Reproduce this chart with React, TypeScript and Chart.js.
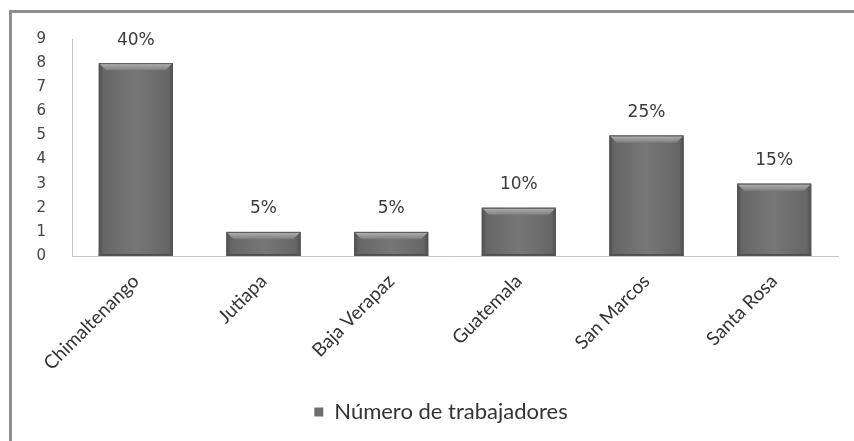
import React, { useEffect, useRef } from "react";
import { Chart, registerables } from "chart.js";

Chart.register(...registerables);

const categories = ["Chimaltenango", "Jutiapa", "Baja Verapaz", "Guatemala", "San Marcos", "Santa Rosa"];
const workers = [8, 1, 1, 2, 5, 3];
const percentLabels = ["40%", "5%", "5%", "10%", "25%", "15%"];
const seriesName = "Número de trabajadores";

const framePlugin = {
  id: "frame",
  afterLayout(chart: any) {
    if (chart.legend) {
      chart.legend.left += 22;
      chart.legend.right += 22;
    }
  },
  beforeDraw(chart: any) {
    const ctx = chart.ctx;
    ctx.save();
    ctx.fillStyle = "#ffffff";
    ctx.fillRect(0, 0, chart.width, chart.height);
    ctx.strokeStyle = "#8e8e8e";
    ctx.lineWidth = 3;
    ctx.beginPath();
    ctx.moveTo(10.5, chart.height);
    ctx.lineTo(10.5, 11.5);
    ctx.lineTo(chart.width, 11.5);
    ctx.stroke();
    ctx.restore();
  },
};

const bevelPlugin = {
  id: "bevel",
  afterDatasetsDraw(chart: any) {
    const ctx = chart.ctx;
    const meta = chart.getDatasetMeta(0);
    ctx.save();
    meta.data.forEach((el: any, i: number) => {
      const { x, y, base, width } = el.getProps(["x", "y", "base", "width"], true);
      const l = x - width / 2;
      const r = x + width / 2;
      const h = base - y;
      const b = Math.min(7, h / 2);
      const g = ctx.createLinearGradient(l, 0, r, 0);
      g.addColorStop(0, "#4e4e4e");
      g.addColorStop(0.06, "#666666");
      g.addColorStop(0.5, "#777777");
      g.addColorStop(0.94, "#666666");
      g.addColorStop(1, "#4e4e4e");
      ctx.fillStyle = g;
      ctx.fillRect(l, y, width, h);
      const tg = ctx.createLinearGradient(0, y, 0, y + b);
      tg.addColorStop(0, "#b4b4b4");
      tg.addColorStop(1, "#808080");
      ctx.fillStyle = tg;
      ctx.beginPath();
      ctx.moveTo(l, y);
      ctx.lineTo(r, y);
      ctx.lineTo(r - b, y + b);
      ctx.lineTo(l + b, y + b);
      ctx.closePath();
      ctx.fill();
      ctx.fillStyle = "#505050";
      ctx.fillRect(l, base - 2, width, 2);
      ctx.strokeStyle = "#555555";
      ctx.lineWidth = 1;
      ctx.strokeRect(l + 0.5, y + 0.5, width - 1, h - 1);
      ctx.fillStyle = "#3a3a3a";
      ctx.font = "17px 'DejaVu Sans'";
      ctx.textAlign = "center";
      ctx.textBaseline = "middle";
      ctx.fillText(percentLabels[i], x, y - 23);
    });
    ctx.restore();
  },
};

export default function App() {
  const ref = useRef<HTMLCanvasElement | null>(null);
  useEffect(() => {
    if (!ref.current) return;
    const chart = new Chart(ref.current, {
      type: "bar",
      data: {
        labels: categories,
        datasets: [
          {
            label: seriesName,
            data: workers,
            backgroundColor: "#6e6e6e",
            borderColor: "#555555",
            borderWidth: 0,
            categoryPercentage: 1,
            barPercentage: 0.58,
          },
        ],
      },
      options: {
        responsive: false,
        animation: false,
        layout: { padding: { left: 0, top: 39, right: 16, bottom: 8 } },
        plugins: {
          tooltip: { enabled: false },
          legend: {
            position: "bottom",
            labels: {
              boxWidth: 9,
              boxHeight: 9,
              padding: 8,
              color: "#333333",
              font: { family: "Lato", size: 22 },
            },
          },
        },
        scales: {
          x: {
            grid: { display: false, drawTicks: false },
            border: { color: "#c4c4c4", width: 1 },
            ticks: {
              maxRotation: 45,
              minRotation: 45,
              padding: 14,
              color: "#333333",
              font: { family: "Lato", size: 19 },
            },
            afterFit(scale: any) {
              scale.height = 137;
            },
          },
          y: {
            min: 0,
            max: 9,
            grid: { display: false, drawTicks: false },
            border: { color: "#c4c4c4", width: 1 },
            ticks: {
              stepSize: 1,
              padding: 26,
              color: "#444444",
              font: { family: "DejaVu Sans", size: 15 },
            },
            afterFit(scale: any) {
              scale.width = 72;
            },
          },
        },
      },
      plugins: [framePlugin, bevelPlugin],
    });
    return () => chart.destroy();
  }, []);
  return (
    <div style={{ position: "absolute", left: 0, top: 0, width: 854, height: 441 }}>
      <canvas ref={ref} width={854} height={441} style={{ width: 854, height: 441 }} />
    </div>
  );
}
